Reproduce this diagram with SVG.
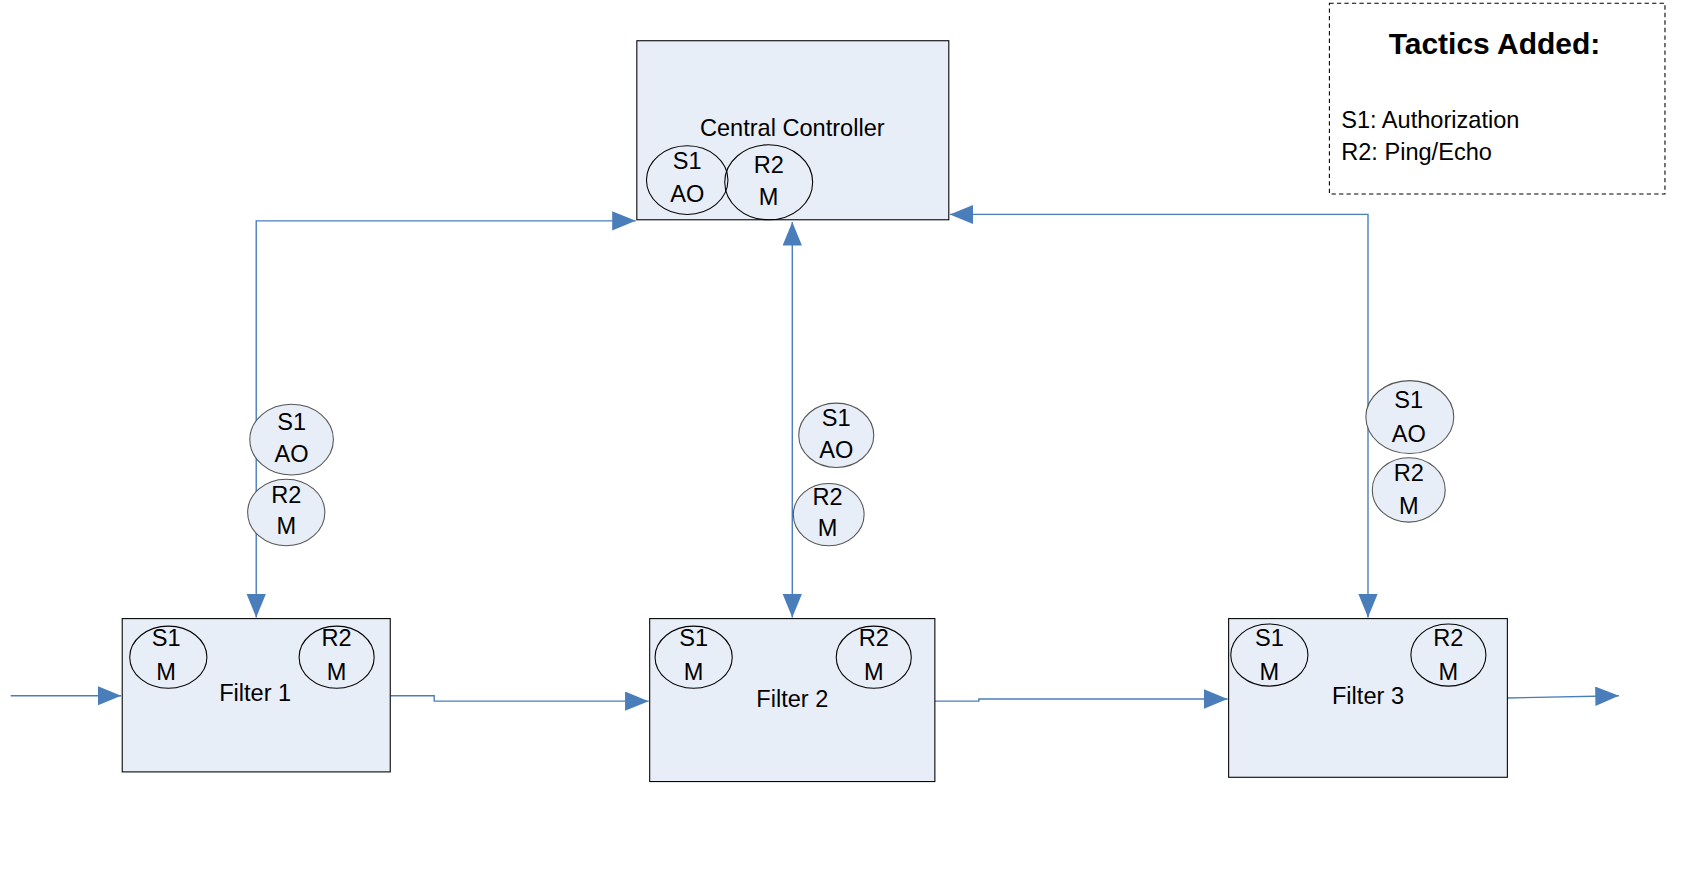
<svg xmlns="http://www.w3.org/2000/svg" width="1681" height="880" viewBox="0 0 1681 880">
<style>
text{font-family:"Liberation Sans",Arial,sans-serif;font-size:22px;fill:#000;text-anchor:middle}
.box{fill:#e8eef7;stroke:#000;stroke-width:1}
.in{fill:none;stroke:#000;stroke-width:1}
.tag{fill:#e8eef7;stroke:#555;stroke-width:1}
.c{fill:none;stroke:#4a7ebb;stroke-width:1.3}
</style>
<defs>
<marker id="a" markerUnits="userSpaceOnUse" markerWidth="24" markerHeight="20" refX="22" refY="9" orient="auto-start-reverse">
<path d="M0,0 L22,9 L0,18 Z" fill="#4a7ebb"/>
</marker>
</defs>
<rect width="1681" height="880" fill="#fff"/>
<g transform="scale(1.0721)">
<g id="connectors">
<path class="c" d="M593,206 L239,206 L239,576" marker-start="url(#a)" marker-end="url(#a)"/>
<path class="c" d="M739,207 L739,576" marker-start="url(#a)" marker-end="url(#a)"/>
<path class="c" d="M886,200 L1276,200 L1276,576" marker-start="url(#a)" marker-end="url(#a)"/>
<path class="c" d="M10,649 L113,649" marker-end="url(#a)"/>
<path class="c" d="M364,649 L405,649 L405,654 L605,654" marker-end="url(#a)"/>
<path class="c" d="M872,654 L913,654 L913,652 L1145,652" marker-end="url(#a)"/>
<path class="c" d="M1406,651 L1510,649" marker-end="url(#a)"/>
</g>
<g id="central">
<rect class="box" x="594" y="38" width="291" height="167"/>
<text x="739" y="127">Central Controller</text>
<ellipse class="in" cx="641" cy="168" rx="38" ry="32"/>
<text x="641" y="158">S1</text><text x="641" y="188">AO</text>
<ellipse class="in" cx="717" cy="170" rx="41" ry="35"/>
<text x="717" y="161">R2</text><text x="717" y="191">M</text>
</g>
<g id="filter1">
<rect class="box" x="114" y="577" width="250" height="143"/>
<text x="238" y="654">Filter 1</text>
<ellipse class="in" cx="157" cy="613" rx="36" ry="29"/>
<text x="155" y="603">S1</text><text x="155" y="634">M</text>
<ellipse class="in" cx="314" cy="613" rx="35" ry="29"/>
<text x="314" y="603">R2</text><text x="314" y="634">M</text>
</g>
<g id="filter2">
<rect class="box" x="606" y="577" width="266" height="152"/>
<text x="739" y="659">Filter 2</text>
<ellipse class="in" cx="647" cy="613" rx="36" ry="29"/>
<text x="647" y="603">S1</text><text x="647" y="634">M</text>
<ellipse class="in" cx="815" cy="613" rx="35" ry="29"/>
<text x="815" y="603">R2</text><text x="815" y="634">M</text>
</g>
<g id="filter3">
<rect class="box" x="1146" y="577" width="260" height="148"/>
<text x="1276" y="657">Filter 3</text>
<ellipse class="in" cx="1184" cy="611" rx="36" ry="29"/>
<text x="1184" y="603">S1</text><text x="1184" y="634">M</text>
<ellipse class="in" cx="1351" cy="611" rx="35" ry="29"/>
<text x="1351" y="603">R2</text><text x="1351" y="634">M</text>
</g>
<g id="tags-left">
<ellipse class="tag" cx="272" cy="410" rx="39" ry="33"/>
<text x="272" y="401">S1</text><text x="272" y="431">AO</text>
<ellipse class="tag" cx="267" cy="478" rx="36" ry="31"/>
<text x="267" y="469">R2</text><text x="267" y="498">M</text>
</g>
<g id="tags-mid">
<ellipse class="tag" cx="780" cy="406" rx="35" ry="30"/>
<text x="780" y="397">S1</text><text x="780" y="427">AO</text>
<ellipse class="tag" cx="773" cy="480" rx="33" ry="29"/>
<text x="772" y="471">R2</text><text x="772" y="500">M</text>
</g>
<g id="tags-right">
<ellipse class="tag" cx="1315" cy="389" rx="41" ry="34"/>
<text x="1314" y="381">S1</text><text x="1314" y="412">AO</text>
<ellipse class="tag" cx="1314" cy="457" rx="34" ry="30"/>
<text x="1314" y="449">R2</text><text x="1314" y="479">M</text>
</g>
<g id="legend">
<rect x="1240" y="3" width="313" height="178" fill="#fff" stroke="#000" stroke-dasharray="4,3"/>
<text x="1394" y="50" style="font-size:28px;font-weight:bold">Tactics Added:</text>
<text x="1251" y="119" style="text-anchor:start">S1: Authorization</text>
<text x="1251" y="149" style="text-anchor:start">R2: Ping/Echo</text>
</g>
</g>
</svg>
